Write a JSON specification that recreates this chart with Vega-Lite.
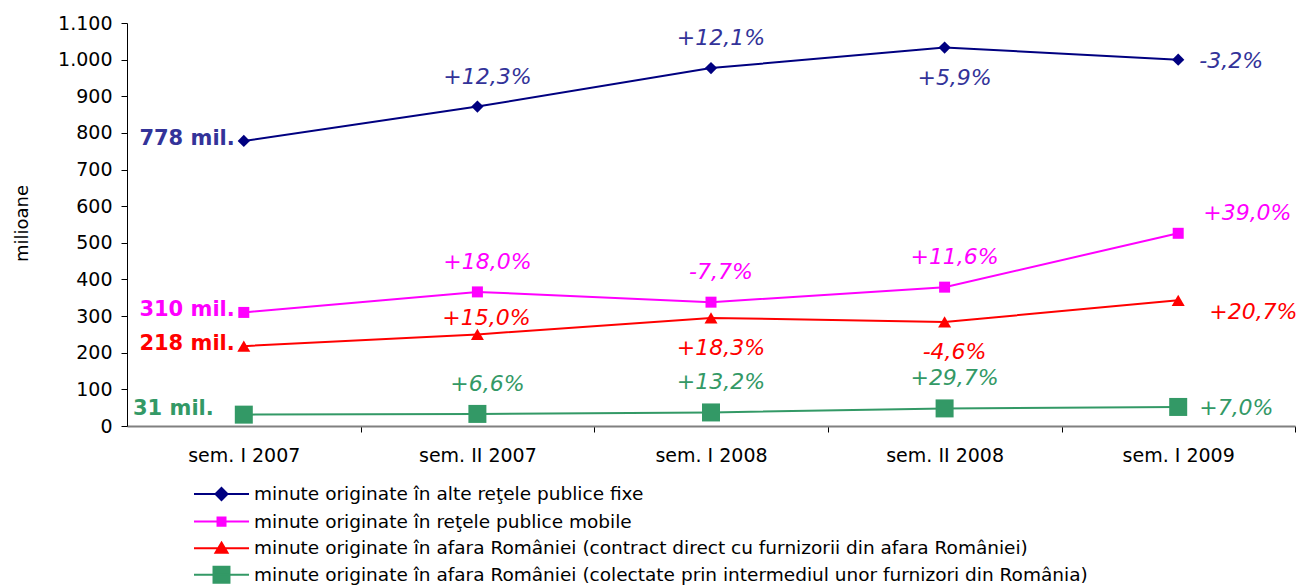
{
  "$schema": "https://vega.github.io/schema/vega-lite/v6.json",
  "width": 1168,
  "height": 403,
  "autosize": {"type": "none"},
  "padding": {"left": 127, "top": 23, "right": 4, "bottom": 161},
  "background": "white",
  "config": {"view": {"stroke": null}, "font": "DejaVu Sans"},
  "datasets": {
    "pts": [
      {"period": "sem. I 2007", "series": "minute originate în alte reţele publice fixe", "value": 778},
      {"period": "sem. II 2007", "series": "minute originate în alte reţele publice fixe", "value": 872},
      {"period": "sem. I 2008", "series": "minute originate în alte reţele publice fixe", "value": 977},
      {"period": "sem. II 2008", "series": "minute originate în alte reţele publice fixe", "value": 1033},
      {"period": "sem. I 2009", "series": "minute originate în alte reţele publice fixe", "value": 1000},
      {"period": "sem. I 2007", "series": "minute originate în reţele publice mobile", "value": 310},
      {"period": "sem. II 2007", "series": "minute originate în reţele publice mobile", "value": 366},
      {"period": "sem. I 2008", "series": "minute originate în reţele publice mobile", "value": 338},
      {"period": "sem. II 2008", "series": "minute originate în reţele publice mobile", "value": 379},
      {"period": "sem. I 2009", "series": "minute originate în reţele publice mobile", "value": 526},
      {"period": "sem. I 2007", "series": "minute originate în afara României (contract direct cu furnizorii din afara României)", "value": 218},
      {"period": "sem. II 2007", "series": "minute originate în afara României (contract direct cu furnizorii din afara României)", "value": 250},
      {"period": "sem. I 2008", "series": "minute originate în afara României (contract direct cu furnizorii din afara României)", "value": 295},
      {"period": "sem. II 2008", "series": "minute originate în afara României (contract direct cu furnizorii din afara României)", "value": 284},
      {"period": "sem. I 2009", "series": "minute originate în afara României (contract direct cu furnizorii din afara României)", "value": 343},
      {"period": "sem. I 2007", "series": "minute originate în afara României (colectate prin intermediul unor furnizori din România)", "value": 31},
      {"period": "sem. II 2007", "series": "minute originate în afara României (colectate prin intermediul unor furnizori din România)", "value": 33},
      {"period": "sem. I 2008", "series": "minute originate în afara României (colectate prin intermediul unor furnizori din România)", "value": 37},
      {"period": "sem. II 2008", "series": "minute originate în afara României (colectate prin intermediul unor furnizori din România)", "value": 48},
      {"period": "sem. I 2009", "series": "minute originate în afara României (colectate prin intermediul unor furnizori din România)", "value": 52}
    ],
    "labels": [
      {"period": "sem. I 2007", "series": "fixe", "value": 778, "label": "778 mil.", "pos": "left"},
      {"period": "sem. I 2007", "series": "mobile", "value": 310, "label": "310 mil.", "pos": "left"},
      {"period": "sem. I 2007", "series": "direct", "value": 218, "label": "218 mil.", "pos": "left"},
      {"period": "sem. I 2007", "series": "colectate", "value": 31, "label": "31 mil.", "pos": "left-far"},
      {"period": "sem. II 2007", "series": "fixe", "value": 872, "label": "+12,3%", "pos": "above"},
      {"period": "sem. I 2008", "series": "fixe", "value": 977, "label": "+12,1%", "pos": "above"},
      {"period": "sem. II 2008", "series": "fixe", "value": 1033, "label": "+5,9%", "pos": "below"},
      {"period": "sem. I 2009", "series": "fixe", "value": 1000, "label": "-3,2%", "pos": "right"},
      {"period": "sem. II 2007", "series": "mobile", "value": 366, "label": "+18,0%", "pos": "above"},
      {"period": "sem. I 2008", "series": "mobile", "value": 338, "label": "-7,7%", "pos": "above"},
      {"period": "sem. II 2008", "series": "mobile", "value": 379, "label": "+11,6%", "pos": "above"},
      {"period": "sem. I 2009", "series": "mobile", "value": 526, "label": "+39,0%", "pos": "right-up"},
      {"period": "sem. II 2007", "series": "direct", "value": 250, "label": "+15,0%", "pos": "above-close"},
      {"period": "sem. I 2008", "series": "direct", "value": 295, "label": "+18,3%", "pos": "below"},
      {"period": "sem. II 2008", "series": "direct", "value": 284, "label": "-4,6%", "pos": "below"},
      {"period": "sem. I 2009", "series": "direct", "value": 343, "label": "+20,7%", "pos": "right-down"},
      {"period": "sem. II 2007", "series": "colectate", "value": 33, "label": "+6,6%", "pos": "above"},
      {"period": "sem. I 2008", "series": "colectate", "value": 37, "label": "+13,2%", "pos": "above"},
      {"period": "sem. II 2008", "series": "colectate", "value": 48, "label": "+29,7%", "pos": "above"},
      {"period": "sem. I 2009", "series": "colectate", "value": 52, "label": "+7,0%", "pos": "right"}
    ]
  },
  "encoding": {
    "x": {
      "field": "period",
      "type": "nominal",
      "sort": ["sem. I 2007", "sem. II 2007", "sem. I 2008", "sem. II 2008", "sem. I 2009"],
      "scale": {"type": "point", "padding": 0.5},
      "axis": {
        "title": null,
        "labelAngle": 0,
        "labelFont": "DejaVu Sans",
        "labelFontSize": 19,
        "labelColor": "black",
        "labelPadding": 14,
        "tickOffset": 117,
        "labelOffset": -117,
        "tickSize": 6,
        "tickColor": "black",
        "domainColor": "#808080",
        "domainWidth": 2,
        "grid": false
      }
    },
    "y": {
      "field": "value",
      "type": "quantitative",
      "scale": {"domain": [0, 1100], "nice": false},
      "axis": {
        "title": "milioane",
        "titleFont": "DejaVu Sans",
        "titleFontSize": 18,
        "titleFontWeight": "normal",
        "titleColor": "black",
        "titleAngle": -90,
        "titleX": -105,
        "titleY": 200,
        "titleAlign": "center",
        "titleBaseline": "middle",
        "values": [0, 100, 200, 300, 400, 500, 600, 700, 800, 900, 1000, 1100],
        "labelExpr": "replace(format(datum.value, ','), ',', '.')",
        "labelFont": "DejaVu Sans",
        "labelFontSize": 19,
        "labelColor": "black",
        "labelPadding": 9,
        "tickSize": 6,
        "tickColor": "black",
        "domainColor": "black",
        "grid": false
      }
    }
  },
  "layer": [
    {
      "data": {"name": "pts"},
      "mark": {"type": "line", "strokeWidth": 2},
      "encoding": {
        "color": {
          "field": "series", "type": "nominal", "legend": null,
          "scale": {
            "domain": ["minute originate în alte reţele publice fixe", "minute originate în reţele publice mobile", "minute originate în afara României (contract direct cu furnizorii din afara României)", "minute originate în afara României (colectate prin intermediul unor furnizori din România)"],
            "range": ["#000080", "#FF00FF", "#FF0000", "#339966"]
          }
        },
        "strokeWidth": {
          "field": "series", "type": "nominal", "legend": null,
          "scale": {
            "type": "ordinal",
            "domain": ["minute originate în alte reţele publice fixe", "minute originate în reţele publice mobile", "minute originate în afara României (contract direct cu furnizorii din afara României)", "minute originate în afara României (colectate prin intermediul unor furnizori din România)"],
            "range": [2, 2, 2, 2.5]
          }
        }
      }
    },
    {
      "data": {"name": "pts"},
      "mark": {"type": "point", "filled": true, "opacity": 1},
      "encoding": {
        "color": {
          "field": "series", "type": "nominal", "legend": null,
          "scale": {
            "domain": ["minute originate în alte reţele publice fixe", "minute originate în reţele publice mobile", "minute originate în afara României (contract direct cu furnizorii din afara României)", "minute originate în afara României (colectate prin intermediul unor furnizori din România)"],
            "range": ["#000080", "#FF00FF", "#FF0000", "#339966"]
          }
        },
        "shape": {
          "field": "series", "type": "nominal", "legend": null,
          "scale": {
            "domain": ["minute originate în alte reţele publice fixe", "minute originate în reţele publice mobile", "minute originate în afara României (contract direct cu furnizorii din afara României)", "minute originate în afara României (colectate prin intermediul unor furnizori din România)"],
            "range": ["diamond", "square", "triangle-up", "square"]
          }
        },
        "size": {
          "field": "series", "type": "nominal", "legend": null,
          "scale": {
            "type": "ordinal",
            "domain": ["minute originate în alte reţele publice fixe", "minute originate în reţele publice mobile", "minute originate în afara României (contract direct cu furnizorii din afara României)", "minute originate în afara României (colectate prin intermediul unor furnizori din România)"],
            "range": [150, 121, 169, 324]
          }
        }
      }
    },
    {
      "data": {"name": "pts"},
      "transform": [{"filter": "datum.value < 0"}],
      "mark": {"type": "point", "filled": true, "opacity": 1, "strokeWidth": 2},
      "encoding": {
        "fill": {
          "field": "series", "type": "nominal",
          "scale": {
            "domain": ["minute originate în alte reţele publice fixe", "minute originate în reţele publice mobile", "minute originate în afara României (contract direct cu furnizorii din afara României)", "minute originate în afara României (colectate prin intermediul unor furnizori din România)"],
            "range": ["#000080", "#FF00FF", "#FF0000", "#339966"]
          },
          "legend": {
            "title": null, "orient": "none", "legendX": 66, "legendY": 456, "padding": 0,
            "symbolSize": 784, "symbolStrokeWidth": 2, "symbolOpacity": 1, "rowPadding": 1.6,
            "labelFont": "DejaVu Sans", "labelFontSize": 18.5, "labelColor": "black", "labelLimit": 2000, "labelOffset": 31
          }
        },
        "stroke": {
          "field": "series", "type": "nominal",
          "scale": {
            "domain": ["minute originate în alte reţele publice fixe", "minute originate în reţele publice mobile", "minute originate în afara României (contract direct cu furnizorii din afara României)", "minute originate în afara României (colectate prin intermediul unor furnizori din România)"],
            "range": ["#000080", "#FF00FF", "#FF0000", "#339966"]
          },
          "legend": {
            "title": null, "orient": "none", "legendX": 66, "legendY": 456, "padding": 0,
            "symbolSize": 784, "symbolStrokeWidth": 2, "symbolOpacity": 1, "rowPadding": 1.6,
            "labelFont": "DejaVu Sans", "labelFontSize": 18.5, "labelColor": "black", "labelLimit": 2000, "labelOffset": 31
          }
        },
        "shape": {
          "field": "series", "type": "nominal",
          "scale": {
            "domain": ["minute originate în alte reţele publice fixe", "minute originate în reţele publice mobile", "minute originate în afara României (contract direct cu furnizorii din afara României)", "minute originate în afara României (colectate prin intermediul unor furnizori din România)"],
            "range": [
              "M-1,0H2.93M0.964,-0.43L1.394,0L0.964,0.43L0.534,0Z",
              "M-1,0H2.93M0.68,-0.29H1.25V0.29H0.68Z",
              "M-1,0H2.93M0.964,-0.4L1.394,0.32H0.534Z",
              "M-1,0H2.93M0.394,-0.57H1.534V0.57H0.394Z"
            ]
          },
          "legend": {
            "title": null, "orient": "none", "legendX": 66, "legendY": 456, "padding": 0,
            "symbolSize": 784, "symbolStrokeWidth": 2, "symbolOpacity": 1, "rowPadding": 1.6,
            "labelFont": "DejaVu Sans", "labelFontSize": 18.5, "labelColor": "black", "labelLimit": 2000, "labelOffset": 31
          }
        }
      }
    },
    {
      "data": {"name": "labels"},
      "transform": [{"filter": "datum.pos === 'left'"}],
      "mark": {"type": "text", "align": "right", "baseline": "middle", "dx": -9, "dy": -2, "fontSize": 21, "fontWeight": "bold", "font": "DejaVu Sans"},
      "encoding": {
        "text": {"field": "label"},
        "color": {"field": "series", "type": "nominal", "legend": null,
          "scale": {"domain": ["fixe", "mobile", "direct", "colectate"], "range": ["#333399", "#FF00FF", "#FF0000", "#339966"]}}
      }
    },
    {
      "data": {"name": "labels"},
      "transform": [{"filter": "datum.pos === 'left-far'"}],
      "mark": {"type": "text", "align": "right", "baseline": "middle", "dx": -30, "dy": -6, "fontSize": 21, "fontWeight": "bold", "font": "DejaVu Sans"},
      "encoding": {
        "text": {"field": "label"},
        "color": {"field": "series", "type": "nominal", "legend": null,
          "scale": {"domain": ["fixe", "mobile", "direct", "colectate"], "range": ["#333399", "#FF00FF", "#FF0000", "#339966"]}}
      }
    },
    {
      "data": {"name": "labels"},
      "transform": [{"filter": "datum.pos === 'above'"}],
      "mark": {"type": "text", "align": "center", "baseline": "middle", "dx": 10, "dy": -30, "fontSize": 22, "fontStyle": "italic", "font": "DejaVu Sans"},
      "encoding": {
        "text": {"field": "label"},
        "color": {"field": "series", "type": "nominal", "legend": null,
          "scale": {"domain": ["fixe", "mobile", "direct", "colectate"], "range": ["#333399", "#FF00FF", "#FF0000", "#339966"]}}
      }
    },
    {
      "data": {"name": "labels"},
      "transform": [{"filter": "datum.pos === 'above-close'"}],
      "mark": {"type": "text", "align": "center", "baseline": "middle", "dx": 9, "dy": -16, "fontSize": 22, "fontStyle": "italic", "font": "DejaVu Sans"},
      "encoding": {
        "text": {"field": "label"},
        "color": {"field": "series", "type": "nominal", "legend": null,
          "scale": {"domain": ["fixe", "mobile", "direct", "colectate"], "range": ["#333399", "#FF00FF", "#FF0000", "#339966"]}}
      }
    },
    {
      "data": {"name": "labels"},
      "transform": [{"filter": "datum.pos === 'below'"}],
      "mark": {"type": "text", "align": "center", "baseline": "middle", "dx": 10, "dy": 30, "fontSize": 22, "fontStyle": "italic", "font": "DejaVu Sans"},
      "encoding": {
        "text": {"field": "label"},
        "color": {"field": "series", "type": "nominal", "legend": null,
          "scale": {"domain": ["fixe", "mobile", "direct", "colectate"], "range": ["#333399", "#FF00FF", "#FF0000", "#339966"]}}
      }
    },
    {
      "data": {"name": "labels"},
      "transform": [{"filter": "datum.pos === 'right'"}],
      "mark": {"type": "text", "align": "left", "baseline": "middle", "dx": 21, "dy": 1, "fontSize": 22, "fontStyle": "italic", "font": "DejaVu Sans"},
      "encoding": {
        "text": {"field": "label"},
        "color": {"field": "series", "type": "nominal", "legend": null,
          "scale": {"domain": ["fixe", "mobile", "direct", "colectate"], "range": ["#333399", "#FF00FF", "#FF0000", "#339966"]}}
      }
    },
    {
      "data": {"name": "labels"},
      "transform": [{"filter": "datum.pos === 'right-up'"}],
      "mark": {"type": "text", "align": "left", "baseline": "middle", "dx": 25, "dy": -20, "fontSize": 22, "fontStyle": "italic", "font": "DejaVu Sans"},
      "encoding": {
        "text": {"field": "label"},
        "color": {"field": "series", "type": "nominal", "legend": null,
          "scale": {"domain": ["fixe", "mobile", "direct", "colectate"], "range": ["#333399", "#FF00FF", "#FF0000", "#339966"]}}
      }
    },
    {
      "data": {"name": "labels"},
      "transform": [{"filter": "datum.pos === 'right-down'"}],
      "mark": {"type": "text", "align": "left", "baseline": "middle", "dx": 31, "dy": 12, "fontSize": 22, "fontStyle": "italic", "font": "DejaVu Sans"},
      "encoding": {
        "text": {"field": "label"},
        "color": {"field": "series", "type": "nominal", "legend": null,
          "scale": {"domain": ["fixe", "mobile", "direct", "colectate"], "range": ["#333399", "#FF00FF", "#FF0000", "#339966"]}}
      }
    }
  ],
  "resolve": {"scale": {"color": "independent", "shape": "independent", "size": "independent", "strokeWidth": "independent", "fill": "independent", "stroke": "independent"}}
}
